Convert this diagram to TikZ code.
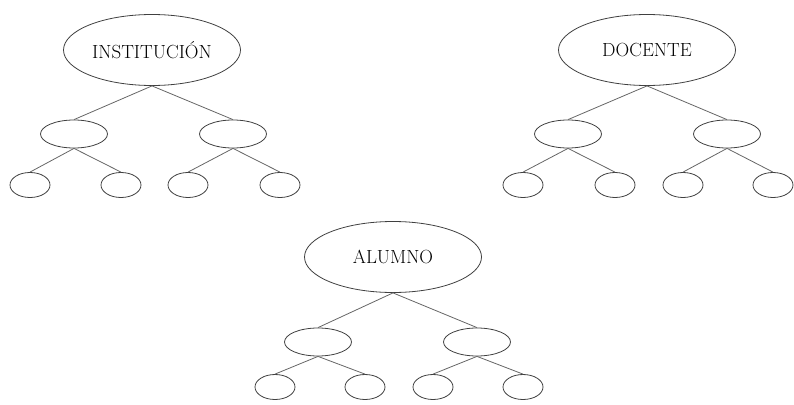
\documentclass[tikz,border=0pt]{standalone}
\usetikzlibrary{shapes.geometric}
\begin{document}
\begin{tikzpicture}[x=1pt,y=-1pt,
  oval/.style={draw=black!75, line width=0.8pt, ellipse, inner sep=0pt},
  root/.style={oval, minimum width=177pt, minimum height=71pt, font=\fontsize{19}{22}\selectfont},
  mid/.style={oval, minimum width=67pt, minimum height=28pt},
  leaf/.style={oval, minimum width=40pt, minimum height=25pt},
  link/.style={draw=black!60, line width=0.8pt}]
\useasboundingbox (0,0) rectangle (794,404);
% Tree 1
\node[root] (r1) at (152,50) {INSTITUCIÓN};
\node[mid] (m1a) at (74,134) {};
\node[mid] (m1b) at (233,134) {};
\node[leaf] (l1a) at (30,185) {};
\node[leaf] (l1b) at (121,185) {};
\node[leaf] (l1c) at (188,185) {};
\node[leaf] (l1d) at (280,185) {};
\draw[link] (r1.south) -- (m1a.north) (r1.south) -- (m1b.north);
\draw[link] (m1a.south) -- (l1a.north) (m1a.south) -- (l1b.north);
\draw[link] (m1b.south) -- (l1c.north) (m1b.south) -- (l1d.north);
% Tree 2
\node[root] (r2) at (647,50) {DOCENTE};
\node[mid] (m2a) at (568,134) {};
\node[mid] (m2b) at (727,134) {};
\node[leaf] (l2a) at (523,185) {};
\node[leaf] (l2b) at (615,185) {};
\node[leaf] (l2c) at (683,185) {};
\node[leaf] (l2d) at (773,185) {};
\draw[link] (r2.south) -- (m2a.north) (r2.south) -- (m2b.north);
\draw[link] (m2a.south) -- (l2a.north) (m2a.south) -- (l2b.north);
\draw[link] (m2b.south) -- (l2c.north) (m2b.south) -- (l2d.north);
% Tree 3
\node[root] (r3) at (393,257) {ALUMNO};
\node[mid] (m3a) at (318,342) {};
\node[mid] (m3b) at (477,342) {};
\node[leaf] (l3a) at (275,387) {};
\node[leaf] (l3b) at (365,387) {};
\node[leaf] (l3c) at (433,387) {};
\node[leaf] (l3d) at (523,387) {};
\draw[link] (r3.south) -- (m3a.north) (r3.south) -- (m3b.north);
\draw[link] (m3a.south) -- (l3a.north) (m3a.south) -- (l3b.north);
\draw[link] (m3b.south) -- (l3c.north) (m3b.south) -- (l3d.north);
\end{tikzpicture}
\end{document}
